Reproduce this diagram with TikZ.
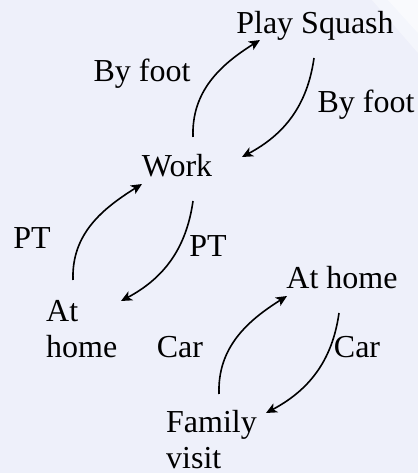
\documentclass[tikz,border=0pt]{standalone}
\usepackage{fontspec}
\setmainfont{Liberation Serif}
\usepackage{xcolor}
\usetikzlibrary{arrows.meta}
\definecolor{slide-bg}{RGB}{238,240,250}
\tikzset{
    place/.style = {inner sep=0pt, font=\fontsize{32bp}{36bp}\selectfont, align=left},
    travel-mode/.style = {inner sep=0pt, anchor=base, font=\fontsize{32bp}{36bp}\selectfont},
    trip-up/.style = {line width=1.6bp, -{Stealth[length=11bp,width=10bp,inset=3bp]}, out=92, in=212},
    trip-down/.style = {line width=1.6bp, -{Stealth[length=11bp,width=10bp,inset=3bp]}, out=-98, in=28},
}

\begin{document}
\begin{tikzpicture}[x=1bp,y=1bp]
\useasboundingbox (0,0) rectangle (418,473);
\fill[slide-bg] (0,0) rectangle (418,473);
\fill[white, opacity=0.4] (372,473) -- (418,473) -- (418,420) -- cycle;
\fill[white, opacity=0.5] (388,473) -- (418,473) -- (418,440) -- cycle;

\node[place, anchor=base] (squash) at (315,439) {Play Squash};
\node[place, anchor=base] (work) at (177,296) {Work};
\node[place, anchor=base west] (home-pt) at (46,115) {At\\home};
\node[place, anchor=base] (home-car) at (342,184) {At home};
\node[place, anchor=base west] (family) at (166,4) {Family\\visit};

\node[travel-mode] (foot-up) at (142,391) {By foot};
\node[travel-mode] (foot-down) at (366,360) {By foot};
\node[travel-mode] (pt-up) at (32,224) {PT};
\node[travel-mode] (pt-down) at (208,216) {PT};
\node[travel-mode] (car-up) at (180,115) {Car};
\node[travel-mode] (car-down) at (357,115) {Car};

\draw[trip-up] ([shift={(16,40)}]work.base) to ([shift={(-55,-6)}]squash.base);
\draw[trip-down] ([shift={(-1,-24)}]squash.base) to ([shift={(65,20)}]work.base);
\draw[trip-up] ([shift={(27,78)}]home-pt.base west) to ([shift={(-35,-7)}]work.base);
\draw[trip-down] ([shift={(16,-24)}]work.base) to ([shift={(75,57)}]home-pt.base west);
\draw[trip-up] ([shift={(53,75)}]family.base west) to ([shift={(-55,-7)}]home-car.base);
\draw[trip-down] ([shift={(-3,-24)}]home-car.base) to ([shift={(100,56)}]family.base west);
\end{tikzpicture}
\end{document}
